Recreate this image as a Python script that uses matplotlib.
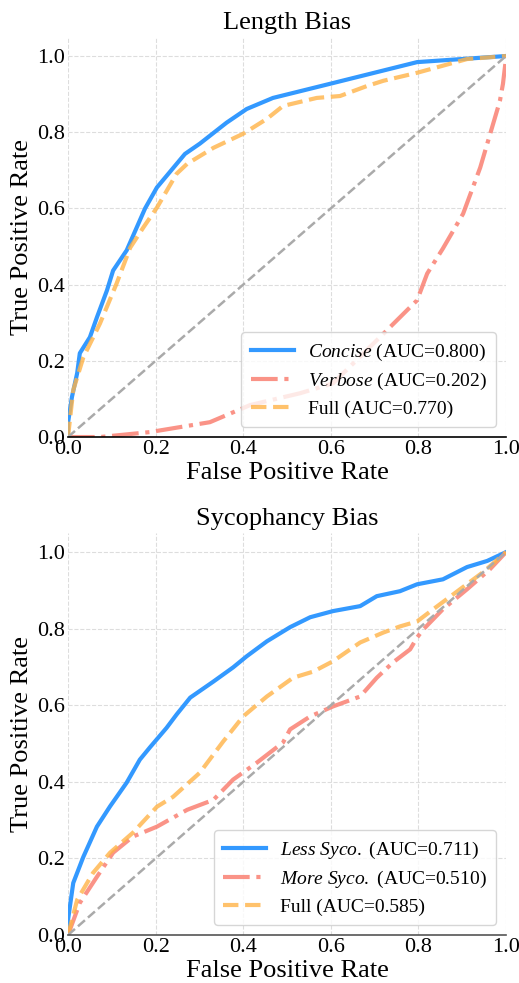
import numpy as np
import matplotlib
matplotlib.use('Agg')
import matplotlib.pyplot as plt

plt.rcParams['font.family'] = ['Liberation Serif', 'DejaVu Serif']
plt.rcParams['mathtext.fontset'] = 'custom'
plt.rcParams['mathtext.rm'] = 'Liberation Serif'
plt.rcParams['mathtext.it'] = 'Liberation Serif:italic'

# ---- Length bias curves ----
lenConciseFpr = [0, 0, 0.009, 0.021, 0.027, 0.050, 0.066, 0.089, 0.103, 0.134, 0.176, 0.203,
                 0.267, 0.301, 0.362, 0.408, 0.468, 0.605, 0.797, 1.0]
lenConciseTpr = [0, 0.037, 0.105, 0.168, 0.220, 0.262, 0.314, 0.385, 0.437, 0.490, 0.600, 0.655,
                 0.743, 0.770, 0.825, 0.861, 0.890, 0.929, 0.984, 1.0]

lenVerboseFpr = [0, 0.073, 0.187, 0.324, 0.416, 0.530, 0.605, 0.705, 0.797, 0.820, 0.856, 0.902,
                 0.941, 0.968, 0.986, 0.993, 1.0, 1.0]
lenVerboseTpr = [0, 0.0, 0.013, 0.039, 0.084, 0.115, 0.141, 0.254, 0.359, 0.429, 0.495, 0.586,
                 0.707, 0.812, 0.882, 0.927, 0.995, 1.0]

lenFullFpr = [0, 0.012, 0.035, 0.073, 0.111, 0.142, 0.172, 0.203, 0.248, 0.272, 0.332, 0.400,
              0.454, 0.491, 0.568, 0.621, 0.682, 0.720, 0.797, 0.911, 1.0]
lenFullTpr = [0, 0.123, 0.209, 0.298, 0.403, 0.497, 0.550, 0.602, 0.691, 0.717, 0.759, 0.796,
              0.835, 0.869, 0.890, 0.895, 0.921, 0.935, 0.956, 0.992, 1.0]

# ---- Sycophancy bias curves ----
sycLessFpr = [0, 0, 0.012, 0.035, 0.066, 0.096, 0.134, 0.164, 0.187, 0.225, 0.248, 0.279,
              0.332, 0.377, 0.408, 0.454, 0.507, 0.553, 0.605, 0.667, 0.705, 0.758, 0.797,
              0.856, 0.911, 0.957, 1.0]
sycLessTpr = [0, 0.039, 0.136, 0.204, 0.283, 0.336, 0.398, 0.458, 0.490, 0.541, 0.576, 0.620,
              0.662, 0.699, 0.728, 0.767, 0.804, 0.830, 0.846, 0.859, 0.885, 0.898, 0.916,
              0.929, 0.961, 0.977, 1.0]

sycMoreFpr = [0, 0.027, 0.066, 0.103, 0.148, 0.203, 0.272, 0.332, 0.377, 0.431, 0.491, 0.507,
              0.553, 0.605, 0.667, 0.705, 0.742, 0.781, 0.797, 0.811, 0.856, 0.911, 0.963, 1.0]
sycMoreTpr = [0, 0.084, 0.152, 0.215, 0.257, 0.283, 0.327, 0.353, 0.406, 0.450, 0.503, 0.537,
              0.571, 0.597, 0.623, 0.672, 0.712, 0.746, 0.777, 0.798, 0.851, 0.903, 0.955, 1.0]

sycFullFpr = [0, 0.021, 0.057, 0.096, 0.148, 0.203, 0.240, 0.301, 0.354, 0.400, 0.454, 0.514,
              0.560, 0.605, 0.667, 0.720, 0.758, 0.797, 0.834, 0.895, 0.948, 1.0]
sycFullTpr = [0, 0.092, 0.162, 0.215, 0.267, 0.335, 0.361, 0.424, 0.505, 0.571, 0.623, 0.672,
              0.688, 0.715, 0.764, 0.790, 0.806, 0.819, 0.851, 0.903, 0.948, 1.0]

panels = [
    {
        'title': 'Length Bias',
        'curves': [
            (lenConciseFpr, lenConciseTpr, r'$\mathit{Concise}$ (AUC=0.800)'),
            (lenVerboseFpr, lenVerboseTpr, r'$\mathit{Verbose}$ (AUC=0.202)'),
            (lenFullFpr, lenFullTpr, 'Full (AUC=0.770)'),
        ],
        'spine': 'black',
    },
    {
        'title': 'Sycophancy Bias',
        'curves': [
            (sycLessFpr, sycLessTpr, r'$\mathit{Less\ Syco.}$ (AUC=0.711)'),
            (sycMoreFpr, sycMoreTpr, r'$\mathit{More\ Syco.}$ (AUC=0.510)'),
            (sycFullFpr, sycFullTpr, 'Full (AUC=0.585)'),
        ],
        'spine': '#555555',
    },
]

styles = [
    dict(color='#3399FF', linestyle='-', linewidth=3, alpha=1.0),
    dict(color='#FA8072', linestyle='-.', linewidth=3, alpha=0.85),
    dict(color='#FFB347', linestyle='--', linewidth=3, alpha=0.8),
]

fig = plt.figure(figsize=(5.19, 9.83), dpi=100)
axPositions = [
    [0.131, 0.5554, 0.844, 0.4070],
    [0.131, 0.0488, 0.844, 0.4090],
]

for panel, pos in zip(panels, axPositions):
    ax = fig.add_axes(pos)
    for (fpr, tpr, label), st in zip(panel['curves'], styles):
        ax.plot(fpr, tpr, label=label, **st)
    ax.plot([0, 1], [0, 1], color='#AAAAAA', linestyle='--', linewidth=1.8)

    ax.set_xlim(0, 1.0)
    ax.set_ylim(0, 1.05)
    ax.set_xticks([0, 0.2, 0.4, 0.6, 0.8, 1.0])
    ax.set_yticks([0, 0.2, 0.4, 0.6, 0.8, 1.0])
    ax.tick_params(labelsize=16, length=0, pad=2)
    ax.grid(True, linestyle='--', color='#DDDDDD', linewidth=0.8)

    for side in ['top', 'right', 'left']:
        ax.spines[side].set_visible(False)
    ax.spines['bottom'].set_color(panel['spine'])
    ax.spines['bottom'].set_linewidth(1.2)

    ax.set_title(panel['title'], fontsize=19, pad=6)
    ax.set_xlabel('False Positive Rate', fontsize=19, labelpad=2)
    ax.set_ylabel('True Positive Rate', fontsize=19, labelpad=3)
    ax.legend(loc='lower right', fontsize=14, handlelength=2.2, handletextpad=0.7,
              borderpad=0.5, labelspacing=0.4, framealpha=0.8)

fig.savefig('out.png', dpi=100)
